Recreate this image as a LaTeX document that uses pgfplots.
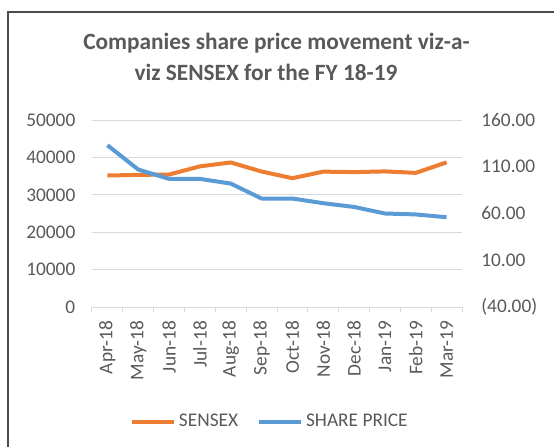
\documentclass[border=0pt]{standalone}
\usepackage{pgfplots}
\pgfplotsset{compat=1.18}
\usepackage{fontspec}
\setmainfont{Carlito}
\definecolor{sens}{HTML}{ED7D31}
\definecolor{share}{HTML}{5B9BD5}
\definecolor{txt}{HTML}{595959}
\definecolor{gridc}{HTML}{D9D9D9}
\begin{document}
\begin{tikzpicture}
\useasboundingbox (0,0) rectangle (415.5pt,335.25pt);
\draw[color=black!70, line width=1pt] (6pt,0) -- (6pt,326.25pt) -- (416pt,326.25pt);
\node[txt, font=\fontsize{17.5}{20}\selectfont\bfseries] at (207.4pt,303pt) {Companies share price movement viz-a-};
\node[txt, font=\fontsize{17.5}{20}\selectfont\bfseries] at (199.5pt,281.25pt) {viz SENSEX for the FY 18-19};
\begin{axis}[
  at={(69pt,105pt)}, anchor=south west,
  width=277.5pt, height=140.25pt, scale only axis,
  xmin=-0.5, xmax=11.5, ymin=0, ymax=50000,
  scaled y ticks=false,
  axis x line*=bottom, axis y line*=left,
  y axis line style={draw=none},
  x axis line style={draw=gridc, line width=0.75pt},
  xtick={0,...,11},
  xticklabels={Apr-18,May-18,Jun-18,Jul-18,Aug-18,Sep-18,Oct-18,Nov-18,Dec-18,Jan-19,Feb-19,Mar-19},
  minor xtick={-0.5,0.5,...,11.5},
  major tick length=0pt, minor tick length=3.75pt, tick align=outside,
  minor x tick style={draw=gridc, line width=0.75pt},
  ytick={0,10000,20000,30000,40000,50000},
  yticklabels={0,10000,20000,30000,40000,50000},
  ymajorgrids, grid style={draw=gridc, line width=0.75pt},
  ticklabel style={txt, font=\fontsize{14.5}{16}\selectfont},
  xticklabel style={rotate=90, anchor=east},
  xticklabel shift=7pt,
  yticklabel style={xshift=-9pt},
  legend style={at={(0.481,-0.613)}, anchor=center, draw=none, fill=none,
    legend columns=2, font=\fontsize{14.5}{16}\selectfont, text=txt,
    /tikz/every even column/.append style={column sep=12pt}},
  legend image code/.code={\draw[#1] (0pt,0pt) -- (32pt,0pt);},
]
\addplot[sens, line width=3pt, line join=round] coordinates {
(0,35160) (1,35322) (2,35423) (3,37607) (4,38645) (5,36227) (6,34442) (7,36194) (8,36068) (9,36257) (10,35867) (11,38673)};
\addlegendentry{SENSEX}
\addlegendimage{share, line width=3pt}
\addlegendentry{SHARE PRICE}
\end{axis}
\begin{axis}[
  at={(69pt,105pt)}, anchor=south west,
  width=277.5pt, height=140.25pt, scale only axis,
  xmin=-0.5, xmax=11.5, ymin=-40, ymax=160,
  axis x line=none, axis y line*=right,
  y axis line style={draw=none},
  major tick length=0pt,
  ytick={-40,10,60,110,160},
  yticklabels={(40.00),10.00,60.00,110.00,160.00},
  ticklabel style={txt, font=\fontsize{14.5}{16}\selectfont},
  yticklabel style={xshift=11pt},
]
\addplot[share, line width=3pt, line join=round] coordinates {
(0,133) (1,107) (2,97) (3,97) (4,92) (5,76) (6,76) (7,71) (8,67) (9,60) (10,59) (11,56)};
\end{axis}
\end{tikzpicture}
\end{document}
